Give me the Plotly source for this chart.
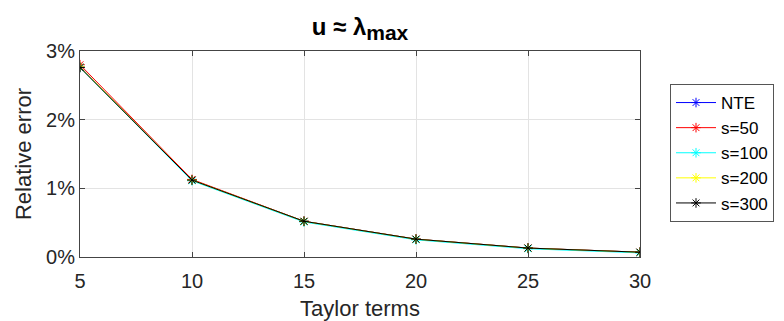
import plotly.graph_objects as go

terms = [5, 10, 15, 20, 25, 30]
series_names = ["NTE", "s=50", "s=100", "s=200", "s=300"]
nte = [2.77, 1.12, 0.52, 0.26, 0.13, 0.07]
s50 = [2.80, 1.13, 0.52, 0.26, 0.13, 0.07]
s100 = [2.76, 1.11, 0.51, 0.25, 0.12, 0.06]
s200 = [2.77, 1.12, 0.52, 0.26, 0.13, 0.07]
s300 = [2.76, 1.12, 0.52, 0.26, 0.13, 0.07]
colors = ["#0000ff", "#ff0000", "#00ffff", "#ffff00", "#000000"]
yticks = [0, 1, 2, 3]
ytick_labels = ["0%", "1%", "2%", "3%"]
xticks = [5, 10, 15, 20, 25, 30]

fig = go.Figure()
for name, vals, c in zip(series_names, [nte, s50, s100, s200, s300], colors):
    fig.add_trace(go.Scatter(
        x=terms, y=vals, name=name, mode="lines+markers",
        line=dict(color=c, width=1),
        marker=dict(symbol="asterisk-open", size=8, color=c, line=dict(color=c, width=1)),
    ))

# page has an 8px body margin, so the figure is drawn 8px in from the page corner
OFF = 8
W, H = 784 - OFF, 321 - OFF
L, R, T, B = 80 - OFF, 640 - OFF, 51 - OFF, 257 - OFF
fig.update_layout(
    width=W, height=H,
    margin=dict(l=L, r=W - R, t=T, b=H - B, autoexpand=False),
    paper_bgcolor="white", plot_bgcolor="white",
    font=dict(family="Arial, Liberation Sans, sans-serif", color="#262626"),
    title=dict(text="<b>u ≈ λ<sub><span style='font-size:21px'>max</span></sub></b>",
               x=(L + R) / 2 / W, xanchor="center",
               y=1 - (27 - OFF) / H, yanchor="middle", font=dict(size=24, color="#000000")),
    showlegend=True,
    legend=dict(x=(670 - OFF - L) / (R - L), y=1 - (84 - OFF - T) / (B - T), yanchor="top", xanchor="left",
                bordercolor="#555555", borderwidth=1, bgcolor="white",
                font=dict(size=17, color="#000000"), tracegroupgap=0, itemwidth=40),
)
fig.update_xaxes(
    range=[5, 30], tickvals=xticks, ticks="inside", ticklen=5, tickcolor="#444",
    showline=True, linecolor="#444", linewidth=1, mirror="allticks",
    showgrid=True, gridcolor="#e3e3e3", zeroline=False, automargin=False,
    ticklabelstandoff=6,
    tickfont=dict(size=20), title=dict(text="Taylor terms", font=dict(size=22), standoff=14),
)
fig.update_yaxes(
    range=[0, 3], tickvals=yticks, ticktext=ytick_labels, ticks="inside", ticklen=5, tickcolor="#444",
    showline=True, linecolor="#444", linewidth=1, mirror="allticks",
    showgrid=True, gridcolor="#e3e3e3", zeroline=False, automargin=False,
    tickfont=dict(size=20), title=dict(text="Relative error", font=dict(size=22), standoff=8),
)
fig.write_html("out.html")
